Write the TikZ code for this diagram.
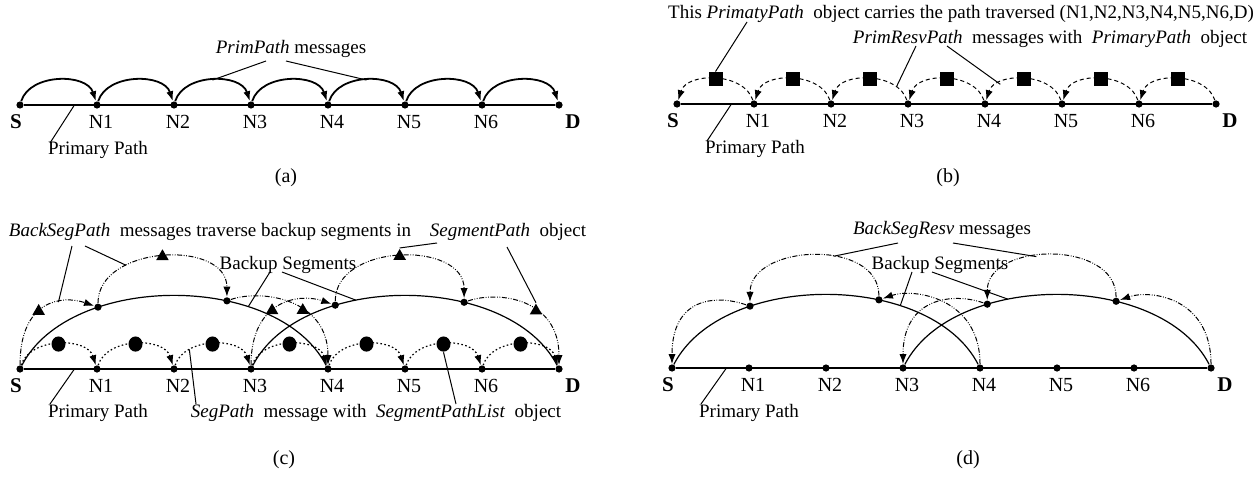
\documentclass[tikz,border=0pt]{standalone}
\usepackage{fontspec}
\setmainfont{Liberation Serif}
\usetikzlibrary{positioning,arrows.meta,shapes.geometric,calc}

\begin{document}
\begin{tikzpicture}[
  x=0.5pt, y=-0.5pt,
  font=\fontsize{9.5}{11}\selectfont, >={Latex[length=5pt,width=3.6pt]},
  dot/.style={circle, fill, inner sep=0pt, minimum size=3.6pt},
  prim/.style={line width=0.7pt},
  hop/.style={->, line width=0.9pt},
  resv/.style={->, line width=0.5pt, dash pattern=on 2pt off 1.5pt},
  seg/.style={->, line width=0.6pt, dash pattern=on 0.8pt off 1.2pt},
  bseg/.style={line width=0.6pt},
  bsp/.style={->, line width=0.5pt,
              dash pattern=on 2.5pt off 0.8pt on 0.4pt off 0.8pt on 0.4pt off 0.8pt},
  sq/.style={rectangle, fill, inner sep=0pt, minimum size=7pt},
  ball/.style={ellipse, fill, inner sep=0pt, minimum width=7pt, minimum height=7.6pt},
  tri/.style={regular polygon, regular polygon sides=3, fill, inner sep=0pt, minimum size=7.2pt},
  lead/.style={line width=0.5pt},
  nlbl/.style={font=\fontsize{10}{12}\selectfont, inner sep=0pt},
  ends/.style={font=\fontsize{10.5}{12}\selectfont\bfseries, inner sep=0pt},
  captxt/.style={font=\fontsize{10}{12}\selectfont},
]
\useasboundingbox (0,0) rectangle (1256,476);

% primary path rows
\foreach \p/\x/\y in {a/20/105, b/677/104, c/20/369, d/672/368}{
  \foreach \n [count=\i from 0] in {S,N1,N2,N3,N4,N5,N6,D}
    \node[dot] (\p\n) at ({\x+77*\i},\y) {};
  \draw[prim] (\p S) -- (\p D) coordinate[pos=0.095] (\p pp);
  \foreach \n in {N1,N2,N3,N4,N5,N6}
    \node[nlbl] at ($(\p\n)+(4,17)$) {\n};
  \node[ends] at ($(\p S)+(-4,17)$) {S};
  \node[ends] at ($(\p D)+(14,17)$) {D};
}

% (a)
\foreach \i/\j in {S/N1,N1/N2,N2/N3,N3/N4,N4/N5,N5/N6,N6/D}
  \draw[hop] (a\i) .. controls +(10,-32) and +(-10,-32) .. (a\j) coordinate[pos=0.5] (at\j);
\node (amsg) at (291,49) {\textit{PrimPath} messages};
\node (aprim) at (98,150) {Primary Path};
\node[captxt] (acap) at (286,178) {(a)};
\draw[lead] ($(amsg)+(-25,12)$) -- (atN3);
\draw[lead] ($(amsg)+(-5,12)$) -- (atN5);
\draw[lead] ($(aprim)+(-48,-7)$) -- (app);

% (b)
\foreach \i/\j in {S/N1,N1/N2,N2/N3,N3/N4,N4/N5,N5/N6,N6/D}
  \draw[resv] (b\j) .. controls +(-10,-32) and +(10,-32) .. (b\i)
    node[sq, pos=0.5] (bsq\j) {} coordinate[pos=0.2] (bR\j) coordinate[pos=0.75] (bL\j);
\node (btop) at (961,14) {This \textit{PrimatyPath}\ \ object carries the path traversed (N1,N2,N3,N4,N5,N6,D)};
\node (bresv) at (1050,39) {\textit{PrimResvPath}\ \ messages with\ \ \textit{PrimaryPath}\ \ object};
\node (bprim) at (755,149) {Primary Path};
\node[captxt] (bcap) at (948,178) {(b)};
\draw[lead] ($(btop)+(-214,8)$) -- (bsqN1.north);
\draw[lead] ($(bresv)+(-134,7)$) -- (bRN3);
\draw[lead] ($(bresv)+(-103,7)$) -- (bLN5);
\draw[lead] ($(bprim)+(-48,-8)$) -- (bpp);

% (c)
\foreach \i/\j in {S/N1,N1/N2,N2/N3,N3/N4,N4/N5,N5/N6,N6/D}
  \draw[seg] (c\i) .. controls +(10,-32) and +(-10,-32) .. (c\j)
    node[ball, pos=0.5] (cc\j) {} coordinate[pos=0.25] (cl\j);
\draw[bseg] (cS) .. controls +(50,-97) and +(-50,-97) .. (cN4)
  node[dot, pos=0.295] (cb1) {} node[dot, pos=0.64] (cb2) {} coordinate[pos=0.7] (cbs1);
\draw[bseg] (cN3) .. controls +(50,-97) and +(-50,-97) .. (cD)
  node[dot, pos=0.313] (cb3) {} node[dot, pos=0.657] (cb4) {} coordinate[pos=0.37] (cbs2);
\draw[bsp] (cS) .. controls +(0,-70) and +(-35,-12) .. (cb1)
  node[tri, pos=0.42] (ct1) {} coordinate[pos=0.64] (cq1);
\draw[bsp] (cb1) .. controls +(0,-62) and +(0,-62) .. (cb2)
  node[tri, pos=0.5] (ct2) {} coordinate[pos=0.3] (cq2);
\draw[bsp] (cb2) .. controls +(35,-12) and +(0,-70) .. (cN4) node[tri, pos=0.6] (ct4) {};
\draw[bsp] (cN3) .. controls +(0,-70) and +(-35,-12) .. (cb3) node[tri, pos=0.42] (ct3) {};
\draw[bsp] (cb3) .. controls +(0,-62) and +(0,-62) .. (cb4) node[tri, pos=0.5] (ct5) {};
\draw[bsp] (cb4) .. controls +(35,-12) and +(0,-70) .. (cD) node[tri, pos=0.6] (ct6) {};
\node (cback) at (210,232) {\textit{BackSegPath}\ \ messages traverse backup segments in};
\node (csegp) at (508,232) {\textit{SegmentPath}\ \ object};
\node (cbs) at (288,265) {Backup Segments};
\node (cprim) at (98,413) {Primary Path};
\node (cseg) at (376,413) {\textit{SegPath}\ \ message with\ \ \textit{SegmentPathList}\ \ object};
\node[captxt] (ccap) at (284,460) {(c)};
\draw[lead] ($(cback)+(-138,14)$) -- (cq1);
\draw[lead] ($(cback)+(-125,14)$) -- (cq2);
\draw[lead] ($(csegp)+(-71,11)$) -- (ct5.north);
\draw[lead] ($(csegp)+(-1,15)$) -- (ct6.north);
\draw[lead] ($(cbs)+(-18,7)$) -- (cbs1);
\draw[lead] ($(cbs)+(-6,7)$) -- (cbs2);
\draw[lead] ($(cprim)+(-48,-9)$) -- (cpp);
\draw[lead] ($(cseg)+(-180,-9)$) -- (clN3);
\draw[lead] ($(cseg)+(80,-9)$) -- (ccN6.south);

% (d)
\draw[bseg] (dS) .. controls +(50,-97) and +(-50,-97) .. (dN4)
  node[dot, pos=0.295] (db1) {} node[dot, pos=0.64] (db2) {} coordinate[pos=0.7] (dbs1);
\draw[bseg] (dN3) .. controls +(50,-97) and +(-50,-97) .. (dD)
  node[dot, pos=0.313] (db3) {} node[dot, pos=0.657] (db4) {} coordinate[pos=0.37] (dbs2);
\draw[bsp] (db1) .. controls +(-35,-12) and +(0,-70) .. (dS);
\draw[bsp] (db2) .. controls +(0,-62) and +(0,-62) .. (db1) coordinate[pos=0.4] (dq1);
\draw[bsp] (dN4) .. controls +(0,-70) and +(35,-12) .. (db2);
\draw[bsp] (db3) .. controls +(-35,-12) and +(0,-70) .. (dN3);
\draw[bsp] (db4) .. controls +(0,-62) and +(0,-62) .. (db3) coordinate[pos=0.58] (dq2);
\draw[bsp] (dD) .. controls +(0,-70) and +(35,-12) .. (db4);
\node (dresv) at (942,230) {\textit{BackSegResv} messages};
\node (dbs) at (940,265) {Backup Segments};
\node (dprim) at (749,413) {Primary Path};
\node[captxt] (dcap) at (968,460) {(d)};
\draw[lead] ($(dresv)+(-44,13)$) -- (dq1);
\draw[lead] ($(dresv)+(11,13)$) -- (dq2);
\draw[lead] ($(dbs)+(-28,7)$) -- (dbs1);
\draw[lead] ($(dbs)+(-8,7)$) -- (dbs2);
\draw[lead] ($(dprim)+(-48,-9)$) -- (dpp);
\end{tikzpicture}
\end{document}
